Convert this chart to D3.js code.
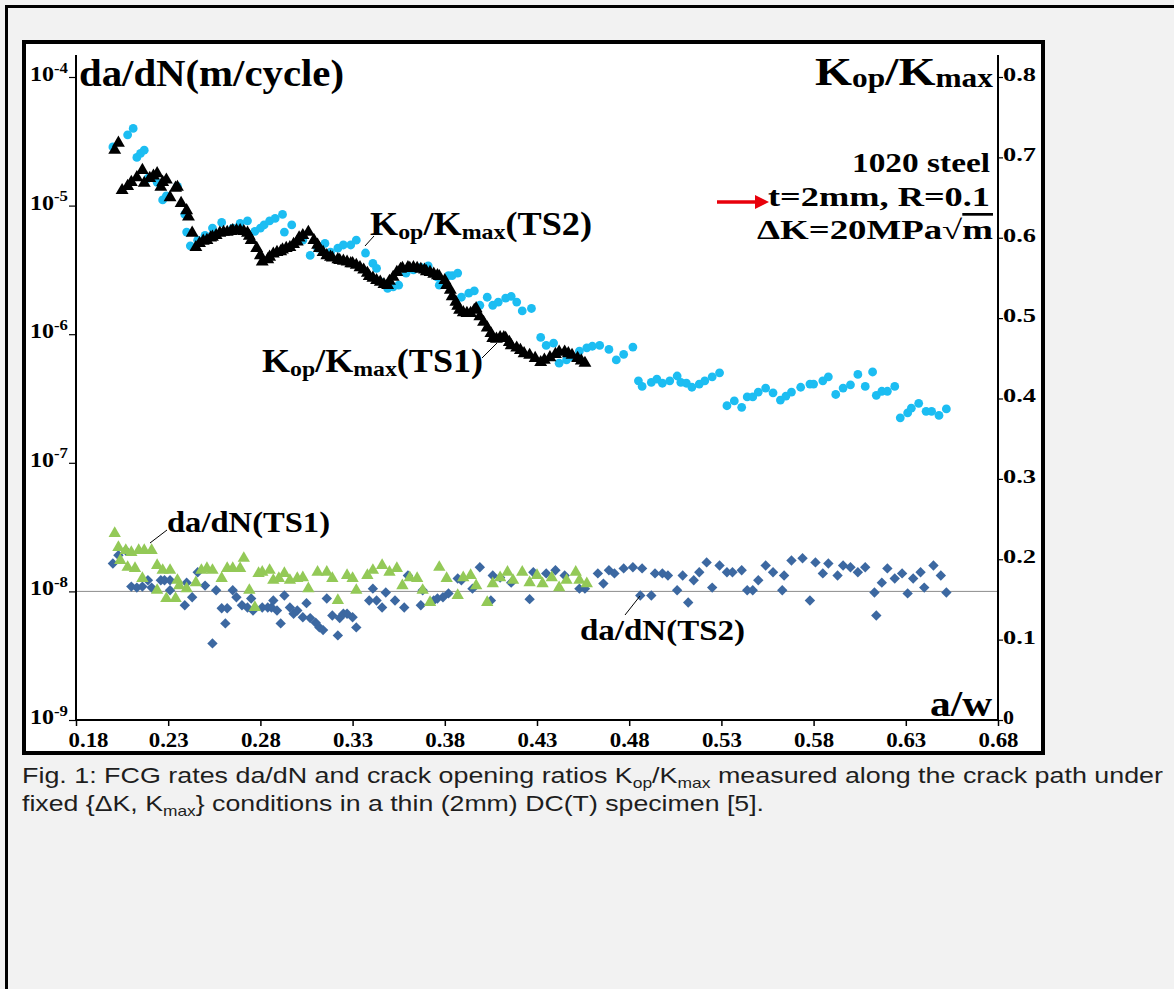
<!DOCTYPE html>
<html>
<head>
<meta charset="utf-8">
<script src="https://cdn.jsdelivr.net/npm/d3@7"></script>
<style>
  body { margin: 0; background: #f2f2f2; }
  svg { display: block; }
</style>
</head>
<body>
<script>
// ---- data ----
var xTicks = [0.18, 0.23, 0.28, 0.33, 0.38, 0.43, 0.48, 0.53, 0.58, 0.63, 0.68];
var kTicks = [0, 0.1, 0.2, 0.3, 0.4, 0.5, 0.6, 0.7, 0.8];
var kTickLabels = ['0', '0.1', '0.2', '0.3', '0.4', '0.5', '0.6', '0.7', '0.8'];
var rateTicks = [1e-9, 1e-8, 1e-7, 1e-6, 1e-5, 1e-4];
var rateTickExp = ['-9', '-8', '-7', '-6', '-5', '-4'];

// Kop/Kmax, specimen TS2 (a/w, ratio)
var kopTS2 = [[0.200,0.713],[0.208,0.728],[0.211,0.736],[0.213,0.700],[0.215,0.705],[0.217,0.709],[0.219,0.674],[0.224,0.669],
  [0.227,0.647],[0.229,0.652],[0.235,0.664],[0.239,0.629],[0.240,0.607],[0.242,0.590],[0.246,0.597],[0.250,0.603],[0.254,0.612],
  [0.259,0.619],[0.265,0.612],[0.269,0.618],[0.273,0.621],[0.277,0.608],[0.280,0.612],[0.282,0.616],[0.285,0.621],[0.288,0.624],
  [0.292,0.629],[0.293,0.607],[0.297,0.616],[0.303,0.597],[0.307,0.578],[0.311,0.587],[0.315,0.593],[0.318,0.582],[0.322,0.587],
  [0.325,0.591],[0.329,0.591],[0.332,0.597],[0.337,0.581],[0.341,0.568],[0.343,0.562],[0.346,0.544],[0.349,0.537],[0.352,0.539],
  [0.355,0.541],[0.359,0.556],[0.363,0.560],[0.367,0.563],[0.371,0.565],[0.376,0.551],[0.377,0.541],[0.382,0.553],[0.384,0.553],
  [0.387,0.556],[0.389,0.526],[0.393,0.531],[0.396,0.534],[0.399,0.516],[0.403,0.526],[0.406,0.516],[0.409,0.520],[0.413,0.525],
  [0.416,0.527],[0.419,0.520],[0.422,0.509],[0.427,0.512],[0.432,0.476],[0.435,0.466],[0.439,0.469],[0.442,0.444],[0.446,0.448],
  [0.450,0.451],[0.453,0.459],[0.457,0.463],[0.460,0.465],[0.464,0.466],[0.469,0.461],[0.473,0.448],[0.477,0.455],[0.482,0.464],
  [0.485,0.422],[0.487,0.415],[0.492,0.420],[0.495,0.424],[0.498,0.419],[0.502,0.422],[0.506,0.428],[0.508,0.420],[0.511,0.419],
  [0.514,0.414],[0.518,0.418],[0.521,0.422],[0.525,0.427],[0.529,0.432],[0.533,0.391],[0.537,0.397],[0.541,0.389],[0.544,0.402],
  [0.547,0.402],[0.550,0.408],[0.554,0.413],[0.558,0.407],[0.562,0.398],[0.565,0.403],[0.568,0.408],[0.573,0.414],[0.578,0.418],
  [0.580,0.418],[0.585,0.422],[0.588,0.427],[0.592,0.405],[0.596,0.413],[0.600,0.417],[0.604,0.430],[0.608,0.415],[0.612,0.433],
  [0.614,0.404],[0.617,0.409],[0.620,0.409],[0.624,0.415],[0.627,0.376],[0.631,0.382],[0.633,0.388],[0.637,0.394],[0.641,0.384],
  [0.644,0.384],[0.648,0.379],[0.652,0.387]];

// Kop/Kmax, specimen TS1 (a/w, ratio)
var kopTS1 = [[0.201,0.709],[0.203,0.718],[0.205,0.659],[0.208,0.664],[0.210,0.669],[0.213,0.675],[0.216,0.684],[0.217,0.668],
  [0.220,0.674],[0.222,0.677],[0.224,0.680],[0.226,0.663],[0.227,0.669],[0.229,0.672],[0.231,0.650],[0.234,0.662],[0.235,0.663],
  [0.237,0.643],[0.240,0.634],[0.241,0.626],[0.243,0.606],[0.245,0.588],[0.247,0.593],[0.249,0.596],[0.251,0.597],[0.253,0.600],
  [0.254,0.601],[0.256,0.603],[0.258,0.606],[0.260,0.607],[0.262,0.607],[0.264,0.608],[0.265,0.609],[0.267,0.609],[0.269,0.609],
  [0.271,0.608],[0.273,0.606],[0.274,0.602],[0.275,0.597],[0.278,0.587],[0.280,0.578],[0.281,0.570],[0.284,0.573],[0.285,0.576],
  [0.287,0.580],[0.289,0.582],[0.291,0.583],[0.292,0.585],[0.294,0.587],[0.296,0.588],[0.298,0.592],[0.300,0.595],[0.301,0.600],
  [0.303,0.603],[0.306,0.607],[0.309,0.597],[0.311,0.591],[0.312,0.587],[0.314,0.582],[0.316,0.578],[0.318,0.576],[0.319,0.575],
  [0.322,0.573],[0.323,0.572],[0.325,0.571],[0.327,0.570],[0.329,0.568],[0.330,0.568],[0.332,0.566],[0.334,0.563],[0.336,0.560],
  [0.338,0.556],[0.339,0.552],[0.341,0.550],[0.343,0.547],[0.345,0.545],[0.347,0.542],[0.349,0.541],[0.350,0.546],[0.352,0.551],
  [0.354,0.557],[0.356,0.561],[0.357,0.562],[0.360,0.563],[0.361,0.562],[0.363,0.563],[0.365,0.562],[0.367,0.561],[0.369,0.560],
  [0.370,0.558],[0.372,0.557],[0.374,0.555],[0.376,0.553],[0.377,0.552],[0.380,0.547],[0.381,0.541],[0.383,0.535],[0.384,0.527],
  [0.386,0.520],[0.387,0.515],[0.388,0.510],[0.390,0.507],[0.392,0.506],[0.394,0.506],[0.396,0.510],[0.397,0.512],[0.399,0.502],
  [0.401,0.495],[0.403,0.488],[0.405,0.481],[0.406,0.475],[0.408,0.474],[0.410,0.476],[0.412,0.476],[0.413,0.475],[0.415,0.470],
  [0.416,0.466],[0.419,0.463],[0.421,0.460],[0.423,0.456],[0.426,0.454],[0.429,0.450],[0.432,0.445],[0.434,0.448],[0.437,0.451],
  [0.440,0.455],[0.442,0.458],[0.445,0.458],[0.447,0.456],[0.449,0.454],[0.452,0.450],[0.454,0.447],[0.456,0.444]];

// da/dN (m/cycle), specimen TS1
var dadnTS1 = [[0.201,2.82e-8],[0.203,2.20e-8],[0.204,1.74e-8],[0.207,2.08e-8],[0.208,1.54e-8],[0.210,2.01e-8],[0.212,1.51e-8],
  [0.214,2.08e-8],[0.216,1.26e-8],[0.217,2.08e-8],[0.221,2.08e-8],[0.224,1.02e-8],[0.224,1.59e-8],[0.227,1.46e-8],[0.229,0.88e-8],
  [0.231,1.46e-8],[0.234,0.88e-8],[0.235,1.22e-8],[0.236,1.11e-8],[0.240,1.05e-8],[0.245,1.17e-8],[0.248,1.46e-8],[0.251,1.51e-8],
  [0.254,1.46e-8],[0.259,1.26e-8],[0.262,1.51e-8],[0.265,1.51e-8],[0.269,1.51e-8],[0.271,1.81e-8],[0.274,1.02e-8],[0.277,0.75e-8],
  [0.279,1.38e-8],[0.281,1.41e-8],[0.285,1.46e-8],[0.287,1.22e-8],[0.290,1.26e-8],[0.293,1.38e-8],[0.296,1.22e-8],[0.300,1.26e-8],
  [0.303,1.28e-8],[0.306,1.05e-8],[0.311,1.41e-8],[0.316,1.41e-8],[0.319,1.26e-8],[0.322,0.85e-8],[0.327,1.33e-8],[0.330,1.26e-8],
  [0.332,1.02e-8],[0.338,1.33e-8],[0.341,1.46e-8],[0.346,1.59e-8],[0.350,1.41e-8],[0.354,1.51e-8],[0.357,1.11e-8],[0.361,1.28e-8],
  [0.365,1.26e-8],[0.368,1.02e-8],[0.372,0.82e-8],[0.377,1.54e-8],[0.381,1.26e-8],[0.387,0.93e-8],[0.390,1.28e-8],[0.394,1.33e-8],
  [0.397,1.11e-8],[0.403,0.82e-8],[0.406,1.15e-8],[0.410,1.28e-8],[0.414,1.41e-8],[0.417,1.22e-8],[0.422,1.41e-8],[0.426,1.17e-8],
  [0.430,1.33e-8],[0.433,1.15e-8],[0.438,1.28e-8],[0.442,1.07e-8],[0.446,1.22e-8],[0.451,1.41e-8],[0.453,1.22e-8],[0.457,1.15e-8]];

// da/dN (m/cycle), specimen TS2
var dadnTS2 = [[0.200,1.65e-8],[0.203,1.91e-8],[0.207,2.08e-8],[0.210,1.09e-8],[0.213,1.07e-8],[0.216,1.09e-8],[0.219,1.22e-8],
  [0.221,1.07e-8],[0.226,1.22e-8],[0.228,1.22e-8],[0.231,1.22e-8],[0.231,1.02e-8],[0.239,0.78e-8],[0.240,1.17e-8],[0.243,0.90e-8],
  [0.246,1.41e-8],[0.250,1.11e-8],[0.254,0.394e-8],[0.256,1.02e-8],[0.259,0.74e-8],[0.261,0.564e-8],[0.262,0.74e-8],[0.265,1.02e-8],
  [0.267,0.90e-8],[0.270,0.78e-8],[0.273,0.75e-8],[0.275,0.88e-8],[0.276,0.71e-8],[0.281,0.75e-8],[0.284,0.75e-8],[0.286,0.75e-8],
  [0.287,0.85e-8],[0.289,0.71e-8],[0.291,0.564e-8],[0.293,0.93e-8],[0.296,0.75e-8],[0.298,0.67e-8],[0.300,0.71e-8],[0.303,0.63e-8],
  [0.305,0.81e-8],[0.307,0.62e-8],[0.310,0.57e-8],[0.312,0.525e-8],[0.314,0.50e-8],[0.316,0.88e-8],[0.319,0.65e-8],[0.322,0.455e-8],
  [0.323,0.62e-8],[0.325,0.67e-8],[0.327,0.67e-8],[0.330,0.63e-8],[0.332,0.525e-8],[0.339,0.85e-8],[0.341,1.05e-8],[0.343,0.85e-8],
  [0.346,0.75e-8],[0.348,0.98e-8],[0.353,0.85e-8],[0.358,0.75e-8],[0.360,1.33e-8],[0.367,0.78e-8],[0.368,1.02e-8],[0.374,0.85e-8],
  [0.376,0.88e-8],[0.379,0.90e-8],[0.382,0.965e-8],[0.387,1.26e-8],[0.389,1.22e-8],[0.395,1.05e-8],[0.399,1.54e-8],[0.405,0.85e-8],
  [0.406,1.33e-8],[0.410,1.28e-8],[0.416,1.17e-8],[0.426,0.87e-8],[0.428,1.41e-8],[0.435,1.38e-8],[0.440,1.46e-8],[0.445,1.33e-8],
  [0.453,1.05e-8],[0.456,1.05e-8],[0.463,1.38e-8],[0.466,1.15e-8],[0.469,1.46e-8],[0.472,1.38e-8],[0.477,1.51e-8],[0.482,1.54e-8],
  [0.486,0.93e-8],[0.487,1.51e-8],[0.492,0.93e-8],[0.494,1.38e-8],[0.498,1.38e-8],[0.501,1.33e-8],[0.506,1.02e-8],[0.509,1.33e-8],
  [0.512,0.82e-8],[0.515,1.22e-8],[0.518,1.41e-8],[0.522,1.68e-8],[0.525,1.07e-8],[0.529,1.59e-8],[0.533,1.41e-8],[0.536,1.41e-8],
  [0.541,1.46e-8],[0.544,1.02e-8],[0.547,1.02e-8],[0.550,1.22e-8],[0.554,1.59e-8],[0.558,1.41e-8],[0.563,1.02e-8],[0.564,1.33e-8],
  [0.568,1.74e-8],[0.574,1.81e-8],[0.578,0.85e-8],[0.581,1.68e-8],[0.585,1.38e-8],[0.588,1.65e-8],[0.593,1.33e-8],[0.596,1.59e-8],
  [0.600,1.54e-8],[0.604,1.41e-8],[0.608,1.54e-8],[0.613,0.98e-8],[0.614,0.65e-8],[0.617,1.17e-8],[0.620,1.51e-8],[0.624,1.26e-8],
  [0.628,1.38e-8],[0.631,0.965e-8],[0.634,1.26e-8],[0.638,1.41e-8],[0.640,1.07e-8],[0.645,1.59e-8],[0.649,1.33e-8],[0.652,0.98e-8]];

// ---- layout ----
var W = 1174, H = 989,
    plotL = 76, plotR = 998, plotT = 77, plotB = 720, axisTop = 55,
    serif = "'Liberation Serif','Times New Roman',serif",
    sans = "'Liberation Sans',Arial,sans-serif";

var svg = d3.select('body').append('svg')
    .attr('width', W)
    .attr('height', H);

// outer page frame and chart box
svg.append('rect')
    .attr('x', 6.5).attr('y', 6.5)
    .attr('width', W).attr('height', H)
    .attr('fill', 'none').attr('stroke', '#000').attr('stroke-width', 3);
svg.append('rect')
    .attr('x', 24).attr('y', 42)
    .attr('width', 1019).attr('height', 711)
    .attr('fill', '#fff').attr('stroke', '#000').attr('stroke-width', 4);

var x = d3.scaleLinear().domain([0.18, 0.68]).range([plotL, plotR]),
    yRate = d3.scaleLog().domain([1e-9, 1e-4]).range([plotB, plotT]),
    yK = d3.scaleLinear().domain([0, 0.8]).range([plotB, plotT]);

// thin reference line at 1e-8
svg.append('line')
    .attr('x1', plotL).attr('x2', plotR)
    .attr('y1', yRate(1e-8)).attr('y2', yRate(1e-8))
    .attr('stroke', '#8c8c8c').attr('stroke-width', 1);

// rich text helper: parts are strings or {t, sub|sup|over}
function rich(g, px, py, parts, size, opts) {
  opts = opts || {};
  var t = g.append('text')
      .attr('x', px).attr('y', py)
      .attr('font-family', opts.family || serif)
      .attr('font-weight', opts.weight || 'bold')
      .attr('font-size', size)
      .attr('fill', opts.fill || '#000')
      .attr('text-anchor', opts.anchor || 'start');
  var shifted = 0;
  parts.forEach(function(p) {
    var s = typeof p === 'string' ? {t: p} : p,
        small = s.sub || s.sup,
        off = s.sub ? size * (opts.subDrop || 0.12) : s.sup ? -size * 0.4 : 0;
    var ts = t.append('tspan')
        .attr('dy', off - shifted)
        .attr('font-size', small ? size * (opts.subScale || 0.66) : size)
        .text(s.t);
    if (s.over) ts.style('text-decoration', 'overline');
    shifted = off;
  });
  if (opts.len) t.attr('textLength', opts.len).attr('lengthAdjust', 'spacingAndGlyphs');
  return t;
}

// ---- axes ----
var gx = svg.append('g')
    .attr('transform', 'translate(0,' + plotB + ')')
    .call(d3.axisBottom(x).tickValues(xTicks).tickSize(6).tickSizeOuter(0).tickFormat(d3.format('.2f')));
gx.select('.domain').remove();
gx.selectAll('.tick line').attr('stroke', '#000').attr('stroke-width', 1.5);
gx.selectAll('.tick text')
    .attr('y', 27).attr('dy', 0)
    .attr('dx', function(d, i) { return i === 0 ? 12 : 0; })
    .attr('font-family', serif).attr('font-weight', 'bold').attr('font-size', 21).attr('fill', '#000')
    .attr('textLength', 40).attr('lengthAdjust', 'spacingAndGlyphs');

var gl = svg.append('g')
    .attr('transform', 'translate(' + plotL + ',0)')
    .call(d3.axisLeft(yRate).tickValues(rateTicks).tickSize(7).tickSizeOuter(0).tickFormat(function() { return ''; }));
gl.select('.domain').remove();
gl.selectAll('.tick line').attr('stroke', '#000').attr('stroke-width', 1.2);
gl.selectAll('.tick text').remove();
rateTicks.forEach(function(v, i) {
  rich(svg, plotL - 8, yRate(v) + 4, ['10', {t: rateTickExp[i], sup: true}], 21,
       {anchor: 'end', subScale: 0.7, len: 38});
});

var gr = svg.append('g')
    .attr('transform', 'translate(' + plotR + ',0)')
    .call(d3.axisRight(yK).tickValues(kTicks).tickSize(5).tickSizeOuter(0)
      .tickFormat(function(d, i) { return kTickLabels[i]; }));
gr.select('.domain').remove();
gr.selectAll('.tick line').attr('stroke', '#000').attr('stroke-width', 1.2);
gr.selectAll('.tick text')
    .attr('x', 5).attr('y', -3).attr('dy', '0.36em')
    .attr('font-family', serif).attr('font-weight', 'bold').attr('font-size', 18).attr('fill', '#000')
    .attr('textLength', function(d, i) { return kTickLabels[i].length > 1 ? 33 : 11; })
    .attr('lengthAdjust', 'spacingAndGlyphs');

// axis lines
svg.append('line').attr('x1', plotL).attr('x2', plotL).attr('y1', axisTop).attr('y2', plotB + 1)
    .attr('stroke', '#000').attr('stroke-width', 2);
svg.append('line').attr('x1', plotR).attr('x2', plotR).attr('y1', axisTop).attr('y2', plotB + 1)
    .attr('stroke', '#000').attr('stroke-width', 2);
svg.append('line').attr('x1', plotL - 1).attr('x2', plotR + 1).attr('y1', plotB).attr('y2', plotB)
    .attr('stroke', '#000').attr('stroke-width', 2);

// ---- data marks ----
var triBig = d3.symbol().type(d3.symbolTriangle).size(72),
    triGreen = d3.symbol().type(d3.symbolTriangle).size(66),
    dia = d3.symbol().type(d3.symbolSquare).size(54);

svg.append('g').selectAll('circle').data(kopTS2)
  .enter().append('circle')
    .attr('cx', function(d) { return x(d[0]); })
    .attr('cy', function(d) { return yK(d[1]); })
    .attr('r', 4.4)
    .attr('fill', '#1cbdf2');

svg.append('g').selectAll('path').data(kopTS1)
  .enter().append('path')
    .attr('d', triBig)
    .attr('transform', function(d) { return 'translate(' + x(d[0]) + ',' + yK(d[1]) + ')'; })
    .attr('fill', '#000');

svg.append('g').selectAll('path').data(dadnTS2)
  .enter().append('path')
    .attr('d', dia)
    .attr('transform', function(d) { return 'translate(' + x(d[0]) + ',' + yRate(d[1]) + ') rotate(45)'; })
    .attr('fill', '#3c68a1');

svg.append('g').selectAll('path').data(dadnTS1)
  .enter().append('path')
    .attr('d', triGreen)
    .attr('transform', function(d) { return 'translate(' + x(d[0]) + ',' + yRate(d[1]) + ')'; })
    .attr('fill', '#93c957');

// ---- titles and annotations ----
var ann = svg.append('g');
rich(ann, 79, 86, ['da/dN(m/cycle)'], 37, {len: 265});
rich(ann, 993, 85, ['K', {t: 'op', sub: true}, '/K', {t: 'max', sub: true}], 40, {anchor: 'end', len: 178, subDrop: 0.06});
rich(ann, 992, 716, ['a/w'], 36, {anchor: 'end', len: 62});

rich(ann, 990, 172, ['1020 steel'], 27, {anchor: 'end', len: 138});
rich(ann, 990, 206, ['t=2mm, R=0.1'], 27, {anchor: 'end', len: 222});
rich(ann, 993, 239, ['\u0394K=20MPa\u221a', {t: 'm', over: true}], 27, {anchor: 'end', len: 236});

// red arrow
ann.append('line').attr('x1', 717).attr('x2', 758).attr('y1', 202).attr('y2', 202)
    .attr('stroke', '#e8000b').attr('stroke-width', 3.5);
ann.append('path').attr('d', 'M755,195 L769,202 L755,209 Z').attr('fill', '#e8000b');

rich(ann, 370, 235, ['K', {t: 'op', sub: true}, '/K', {t: 'max', sub: true}, '(TS2)'], 33, {len: 222});
ann.append('line').attr('x1', 365).attr('y1', 246).attr('x2', 374).attr('y2', 236).attr('stroke', '#000').attr('stroke-width', 1);

rich(ann, 262, 372, ['K', {t: 'op', sub: true}, '/K', {t: 'max', sub: true}, '(TS1)'], 33, {len: 221});
ann.append('line').attr('x1', 482).attr('y1', 358).attr('x2', 497).attr('y2', 343).attr('stroke', '#000').attr('stroke-width', 1);

rich(ann, 167, 532, ['da/dN(TS1)'], 29, {len: 163});
ann.append('line').attr('x1', 150).attr('y1', 543).attr('x2', 167).attr('y2', 530).attr('stroke', '#000').attr('stroke-width', 1);

rich(ann, 580, 640, ['da/dN(TS2)'], 29, {len: 165});
ann.append('line').attr('x1', 625).attr('y1', 615).attr('x2', 640).attr('y2', 596).attr('stroke', '#000').attr('stroke-width', 1);

// ---- caption ----
var capOpts = {family: sans, weight: 'normal', fill: '#1e1e1e', subDrop: 0.22, subScale: 0.65};
capOpts.len = 1141;
rich(svg, 22, 783, ['Fig. 1: FCG rates da/dN and crack opening ratios K', {t: 'op', sub: true}, '/K', {t: 'max', sub: true},
  ' measured along the crack path under'], 22, capOpts);
capOpts.len = 742;
rich(svg, 22, 811, ['fixed {\u0394K, K', {t: 'max', sub: true}, '} conditions in a thin (2mm) DC(T) specimen [5].'], 22, capOpts);
</script>
</body>
</html>
